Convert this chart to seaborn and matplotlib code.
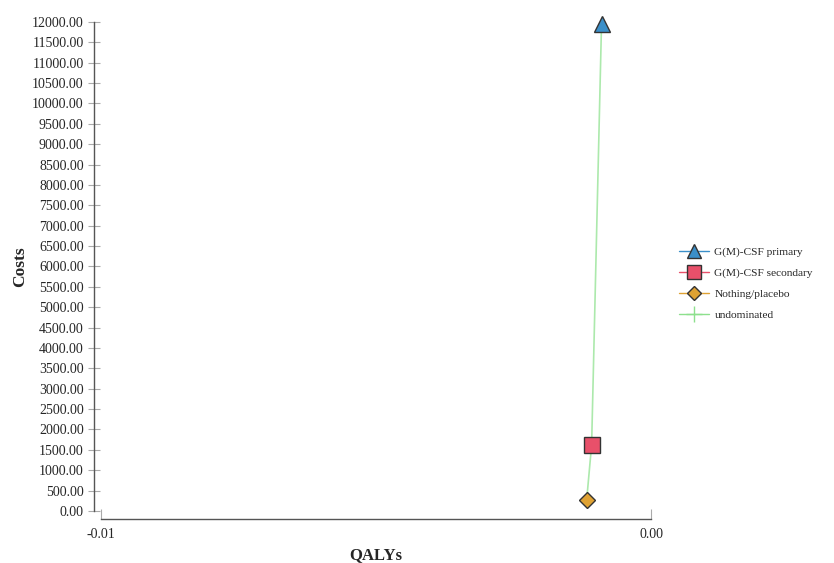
import matplotlib
matplotlib.use("Agg")
import numpy as np
import pandas as pd
import matplotlib.pyplot as plt
from matplotlib.lines import Line2D
import seaborn as sns

# strategies
strategies = ["G(M)-CSF primary", "G(M)-CSF secondary", "Nothing/placebo"]
qalys = [-0.00090, -0.00108, -0.00117]
costs = [11950.0, 1620.0, 270.0]
colors = ["#3a8fc9", "#e8506a", "#dfa233"]
markers = ["^", "s", "D"]
msizes = [11, 11, 8]

# undominated frontier, cheapest first
frontier = ["Nothing/placebo", "G(M)-CSF secondary", "G(M)-CSF primary"]

y_ticks = np.arange(0, 12001, 500)
x_ticks = [-0.01, 0.0]

df = pd.DataFrame({"strategy": strategies, "qaly": qalys, "cost": costs})
front = df.set_index("strategy").loc[frontier].reset_index()

sns.set_style("ticks")
serif = ["Liberation Serif", "DejaVu Serif"]
plt.rcParams["font.family"] = serif

fig = plt.figure(figsize=(8.34, 5.63), dpi=100)
ax = fig.add_axes([0.1211, 0.0924, 0.6595, 0.8686])

sns.lineplot(data=front, x="qaly", y="cost", sort=False, color="#ace9ac",
             linewidth=1.2, ax=ax, legend=False)
for s, q, c, col, m, ms in zip(strategies, qalys, costs, colors, markers, msizes):
    ax.plot([q], [c], marker=m, markersize=ms, markerfacecolor=col,
            markeredgecolor="#333333", markeredgewidth=1.0, linestyle="none",
            zorder=5, clip_on=False)

ax.set_xlim(-0.01, 0.0)
ax.set_ylim(0, 12000)
ax.set_yticks(y_ticks)
ax.set_yticklabels([f"{v:.2f}" for v in y_ticks])
ax.set_xticks(x_ticks)
ax.set_xticklabels([f"{v:.2f}" for v in x_ticks])

for lab in ax.get_xticklabels() + ax.get_yticklabels():
    lab.set_fontsize(8.5)
    lab.set_color("#222222")

ax.tick_params(axis="y", direction="inout", length=9, width=0.8, color="#aaaaaa", pad=3)
ax.tick_params(axis="x", direction="in", length=7, width=0.8, color="#aaaaaa", pad=6)

sns.despine(ax=ax)
ax.spines["left"].set_position(("outward", 5))
ax.spines["bottom"].set_position(("outward", 6))
for sp in ("left", "bottom"):
    ax.spines[sp].set_color("#555555")
    ax.spines[sp].set_linewidth(1.0)

ax.set_xlabel("QALYs", fontsize=12, fontweight="bold", labelpad=5)
ax.set_ylabel("Costs", fontsize=12.5, fontweight="bold", labelpad=3)

handles = []
for s, col, m, ms in zip(strategies, colors, markers, msizes):
    handles.append(Line2D([0], [0], color=col, linewidth=1.0, marker=m,
                          markersize=ms - 1, markerfacecolor=col,
                          markeredgecolor="#333333", label=s))
handles.append(Line2D([0], [0], color="#8de08d", linewidth=1.0, marker="+",
                      markersize=12, markeredgecolor="#8de08d", label="undominated"))
fig.legend(handles=handles, loc="center left", bbox_to_anchor=(0.802, 0.497),
           frameon=False, fontsize=8.2, handlelength=2.6, labelspacing=0.95,
           handletextpad=0.5)

fig.savefig("out.png", dpi=100)
